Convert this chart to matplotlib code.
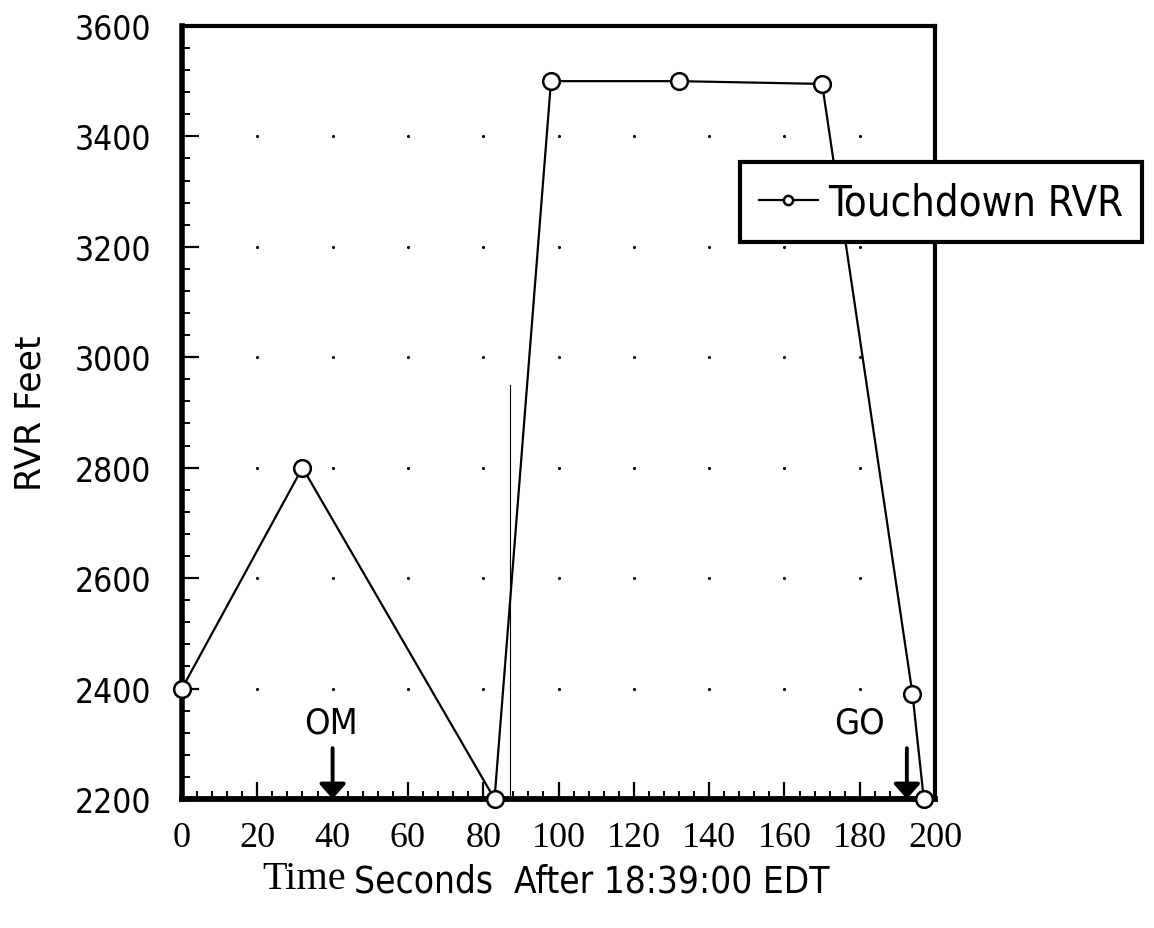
import matplotlib
matplotlib.use("Agg")
import matplotlib.pyplot as plt
from matplotlib.ticker import MultipleLocator
from matplotlib.font_manager import FontProperties

# ---- data ----
time_s = [0, 32, 83, 98, 132, 170, 194, 197]
rvr_ft = [2400, 2800, 2200, 3500, 3500, 3495, 2390, 2200]
x_ticks = [0, 20, 40, 60, 80, 100, 120, 140, 160, 180, 200]
y_ticks = [2200, 2400, 2600, 2800, 3000, 3200, 3400, 3600]
events = ["OM", "GO"]
event_times = [40, 192.5]
event_label_x = [39.5, 180]

narrow = "DejaVu Sans"
serif = "Liberation Serif"

fig = plt.figure(figsize=(11.54, 9.29), dpi=100)
ax = fig.add_axes([0.1577, 0.1389, 0.8103 - 0.1577, 0.971 - 0.1389])

ax.plot(time_s, rvr_ft, color="black", lw=1.6, marker="o", ms=12,
        mfc="white", mec="black", mew=1.8, label="Touchdown RVR", zorder=3,
        clip_on=False)

ax.set_xlim(0, 200)
ax.set_ylim(2200, 3600)
ax.set_xticks(x_ticks)
ax.set_yticks(y_ticks)
ax.xaxis.set_minor_locator(MultipleLocator(4))
ax.yaxis.set_minor_locator(MultipleLocator(40))
ax.tick_params(axis="both", which="major", direction="in", length=12, width=1.6,
               top=False, right=False)
ax.tick_params(axis="both", which="minor", direction="in", length=6, width=1.4,
               top=False, right=False)
ax.tick_params(axis="x", pad=16, labelsize=26, labelfontfamily=serif)
ax.tick_params(axis="y", pad=22, labelsize=24, labelfontfamily=narrow)
for lab in ax.get_yticklabels():
    lab.set_fontstretch("condensed")

ax.spines["left"].set_linewidth(4.0)
ax.spines["bottom"].set_linewidth(4.2)
ax.spines["top"].set_linewidth(3.0)
ax.spines["right"].set_linewidth(3.0)

# faint dot grid at major intersections
for gx in x_ticks[1:-1]:
    for gy in y_ticks[1:-1]:
        ax.plot(gx, gy, marker=".", ms=2.5, color="black", zorder=1)

# thin vertical line near 87 s
ax.plot([87, 87], [2200, 2950], color="black", lw=0.8, zorder=2)

# event arrows
for name, t, lx in zip(events, event_times, event_label_x):
    ax.annotate("", xy=(t, 2200), xytext=(t, 2292),
                arrowprops=dict(arrowstyle="-|>,head_width=0.4,head_length=0.45",
                                mutation_scale=20, color="black", lw=2.8,
                                shrinkA=0, shrinkB=0),
                zorder=4)
    ax.text(lx, 2308, name, ha="center", va="bottom", fontsize=26,
            family=narrow, stretch="condensed")

ax.set_ylabel("RVR Feet", fontsize=25, family=narrow, labelpad=20)

fig.text(262 / 1154, 1 - 880 / 929, "Time", fontsize=29, family=serif,
         ha="left", va="center")
fig.text(354 / 1154, 1 - 882 / 929, "Seconds  After 18:39:00 EDT", fontsize=26.5,
         family=narrow, stretch="condensed", ha="left", va="center")

leg_font = FontProperties(family=narrow, size=30, stretch="condensed")
leg = ax.legend(loc="upper left", bbox_to_anchor=(740 / 1154, 1 - 163 / 929),
                bbox_transform=fig.transFigure, frameon=True, fancybox=False,
                prop=leg_font, handlelength=1.4,
                handletextpad=0.25, borderpad=0.46, borderaxespad=0,
                markerscale=0.55)
leg.get_frame().set_edgecolor("black")
leg.get_frame().set_linewidth(3.0)
leg.get_frame().set_alpha(1)

fig.savefig("out.png", dpi=100)
